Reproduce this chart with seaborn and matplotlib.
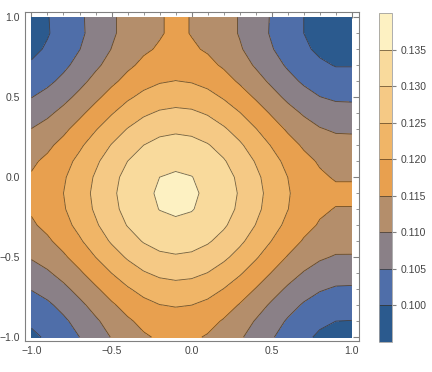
import numpy as np
import matplotlib
matplotlib.use("Agg")
import matplotlib.pyplot as plt
import seaborn as sns
from matplotlib.ticker import MultipleLocator

# grid, x and y from -1 to 1 in steps of 0.1
x_vals = [-1.0, -0.9, -0.8, -0.7, -0.6, -0.5, -0.4, -0.3, -0.2, -0.1, 0.0,
          0.1, 0.2, 0.3, 0.4, 0.5, 0.6, 0.7, 0.8, 0.9, 1.0]
y_vals = list(x_vals)

# one row per y value, bottom (y=-1) to top (y=1)
z_rows = [
    [0.0991, 0.1006, 0.1026, 0.1050, 0.1077, 0.1102, 0.1126, 0.1144, 0.1156, 0.1160, 0.1157, 0.1146, 0.1129, 0.1106, 0.1081, 0.1054, 0.1030, 0.1009, 0.0993, 0.0985, 0.0984],
    [0.1007, 0.1021, 0.1042, 0.1066, 0.1093, 0.1119, 0.1143, 0.1162, 0.1174, 0.1179, 0.1175, 0.1164, 0.1146, 0.1123, 0.1097, 0.1071, 0.1045, 0.1024, 0.1008, 0.1000, 0.0999],
    [0.1027, 0.1042, 0.1063, 0.1089, 0.1116, 0.1143, 0.1167, 0.1186, 0.1199, 0.1203, 0.1200, 0.1189, 0.1170, 0.1147, 0.1120, 0.1093, 0.1067, 0.1045, 0.1029, 0.1021, 0.1020],
    [0.1052, 0.1067, 0.1089, 0.1115, 0.1143, 0.1171, 0.1195, 0.1215, 0.1228, 0.1233, 0.1229, 0.1218, 0.1199, 0.1175, 0.1148, 0.1119, 0.1093, 0.1070, 0.1054, 0.1045, 0.1044],
    [0.1078, 0.1094, 0.1116, 0.1143, 0.1172, 0.1200, 0.1226, 0.1246, 0.1259, 0.1264, 0.1261, 0.1249, 0.1229, 0.1205, 0.1177, 0.1148, 0.1120, 0.1097, 0.1080, 0.1071, 0.1070],
    [0.1104, 0.1120, 0.1143, 0.1170, 0.1200, 0.1229, 0.1255, 0.1276, 0.1290, 0.1295, 0.1291, 0.1279, 0.1259, 0.1234, 0.1205, 0.1175, 0.1147, 0.1123, 0.1106, 0.1096, 0.1096],
    [0.1126, 0.1143, 0.1166, 0.1194, 0.1225, 0.1255, 0.1281, 0.1303, 0.1317, 0.1322, 0.1318, 0.1305, 0.1285, 0.1259, 0.1230, 0.1199, 0.1171, 0.1146, 0.1129, 0.1119, 0.1118],
    [0.1144, 0.1161, 0.1185, 0.1213, 0.1244, 0.1275, 0.1302, 0.1323, 0.1337, 0.1343, 0.1339, 0.1326, 0.1306, 0.1279, 0.1249, 0.1218, 0.1189, 0.1164, 0.1146, 0.1136, 0.1136],
    [0.1155, 0.1172, 0.1196, 0.1225, 0.1256, 0.1287, 0.1314, 0.1336, 0.1351, 0.1356, 0.1352, 0.1339, 0.1318, 0.1292, 0.1261, 0.1230, 0.1201, 0.1176, 0.1157, 0.1148, 0.1148],
    [0.1159, 0.1176, 0.1200, 0.1229, 0.1260, 0.1291, 0.1319, 0.1341, 0.1355, 0.1360, 0.1356, 0.1343, 0.1323, 0.1296, 0.1265, 0.1234, 0.1204, 0.1179, 0.1161, 0.1160, 0.1160],
    [0.1154, 0.1171, 0.1195, 0.1224, 0.1255, 0.1286, 0.1314, 0.1335, 0.1350, 0.1355, 0.1351, 0.1338, 0.1318, 0.1291, 0.1260, 0.1229, 0.1200, 0.1175, 0.1157, 0.1146, 0.1146],
    [0.1143, 0.1159, 0.1183, 0.1212, 0.1242, 0.1273, 0.1300, 0.1322, 0.1336, 0.1341, 0.1337, 0.1324, 0.1304, 0.1277, 0.1247, 0.1217, 0.1187, 0.1163, 0.1145, 0.1135, 0.1134],
    [0.1124, 0.1141, 0.1164, 0.1192, 0.1223, 0.1252, 0.1279, 0.1300, 0.1314, 0.1319, 0.1315, 0.1303, 0.1283, 0.1257, 0.1227, 0.1197, 0.1168, 0.1144, 0.1127, 0.1117, 0.1116],
    [0.1101, 0.1118, 0.1140, 0.1168, 0.1197, 0.1226, 0.1252, 0.1273, 0.1287, 0.1292, 0.1288, 0.1276, 0.1256, 0.1231, 0.1202, 0.1172, 0.1144, 0.1121, 0.1103, 0.1094, 0.1093],
    [0.1076, 0.1091, 0.1114, 0.1140, 0.1169, 0.1197, 0.1223, 0.1243, 0.1256, 0.1261, 0.1258, 0.1246, 0.1226, 0.1202, 0.1174, 0.1145, 0.1118, 0.1095, 0.1078, 0.1069, 0.1068],
    [0.1049, 0.1065, 0.1086, 0.1112, 0.1140, 0.1168, 0.1193, 0.1212, 0.1225, 0.1230, 0.1226, 0.1215, 0.1196, 0.1172, 0.1145, 0.1117, 0.1090, 0.1068, 0.1051, 0.1043, 0.1042],
    [0.1025, 0.1040, 0.1061, 0.1086, 0.1114, 0.1140, 0.1164, 0.1184, 0.1196, 0.1201, 0.1197, 0.1186, 0.1168, 0.1144, 0.1118, 0.1091, 0.1065, 0.1043, 0.1027, 0.1018, 0.1018],
    [0.1005, 0.1019, 0.1040, 0.1065, 0.1091, 0.1117, 0.1141, 0.1160, 0.1172, 0.1176, 0.1173, 0.1162, 0.1144, 0.1121, 0.1095, 0.1069, 0.1044, 0.1022, 0.1007, 0.0998, 0.0998],
    [0.0990, 0.1005, 0.1025, 0.1049, 0.1075, 0.1101, 0.1124, 0.1143, 0.1155, 0.1159, 0.1156, 0.1145, 0.1128, 0.1105, 0.1079, 0.1053, 0.1028, 0.1007, 0.0992, 0.0984, 0.0983],
    [0.0983, 0.0997, 0.1017, 0.1041, 0.1067, 0.1093, 0.1116, 0.1134, 0.1146, 0.1160, 0.1148, 0.1136, 0.1119, 0.1097, 0.1071, 0.1045, 0.1021, 0.1000, 0.0985, 0.0976, 0.0976],
    [0.0983, 0.0998, 0.1018, 0.1042, 0.1068, 0.1093, 0.1116, 0.1134, 0.1146, 0.1160, 0.1148, 0.1137, 0.1119, 0.1097, 0.1072, 0.1046, 0.1021, 0.1000, 0.0985, 0.0977, 0.0976],
]

levels = [0.095, 0.100, 0.105, 0.110, 0.115, 0.120, 0.125, 0.130, 0.135, 0.140]
band_colors = ["#2b5a8e", "#4f6ea9", "#8a8087", "#b48e6b", "#e8a04f",
               "#f0b567", "#f5c985", "#f9da9c", "#fdf1c2"]
tick_vals = [-1.0, -0.5, 0.0, 0.5, 1.0]
tick_labels = ["\u22121.0", "\u22120.5", "0.0", "0.5", "1.0"]

z = np.array(z_rows)

sns.set_theme(style="white")
plt.rcParams["font.family"] = ["Liberation Sans", "DejaVu Sans"]

fig = plt.figure(figsize=(4.32, 3.72), dpi=100)
ax = fig.add_axes([0.058, 0.083, 0.773, 0.884])
cf = ax.contourf(x_vals, y_vals, z, levels=levels, colors=sns.color_palette(band_colors))
cs = ax.contour(x_vals, y_vals, z, levels=levels[1:-1], colors="#3a2a14",
                linewidths=0.6, alpha=0.7)

ax.set_xlim(-1.04, 1.045)
ax.set_ylim(-1.025, 1.031)
ax.set_xticks(tick_vals)
ax.set_xticklabels(tick_labels)
ax.set_yticks(tick_vals)
ax.set_yticklabels(tick_labels)
ax.xaxis.set_minor_locator(MultipleLocator(0.1))
ax.yaxis.set_minor_locator(MultipleLocator(0.1))
ax.tick_params(which="both", direction="in", top=True, right=True, colors="#808080",
               labelcolor="#444444", labelsize=7.5)
ax.tick_params(which="major", length=4, width=0.8)
ax.tick_params(which="minor", length=2, width=0.6)
for sp in ax.spines.values():
    sp.set_color("#808080")
    sp.set_linewidth(0.8)

cax = fig.add_axes([0.877, 0.081, 0.030, 0.884])
cb = fig.colorbar(cf, cax=cax, ticks=levels[1:-1])
cb.add_lines(cs)
cb.ax.set_yticklabels([f"{t:.3f}" for t in levels[1:-1]])
cb.ax.tick_params(direction="out", length=3, width=0.8, colors="#808080",
                  labelcolor="#444444", labelsize=7.5)
cb.outline.set_edgecolor("#a0a0a0")
cb.outline.set_linewidth(0.6)

fig.savefig("out.png", dpi=100)
